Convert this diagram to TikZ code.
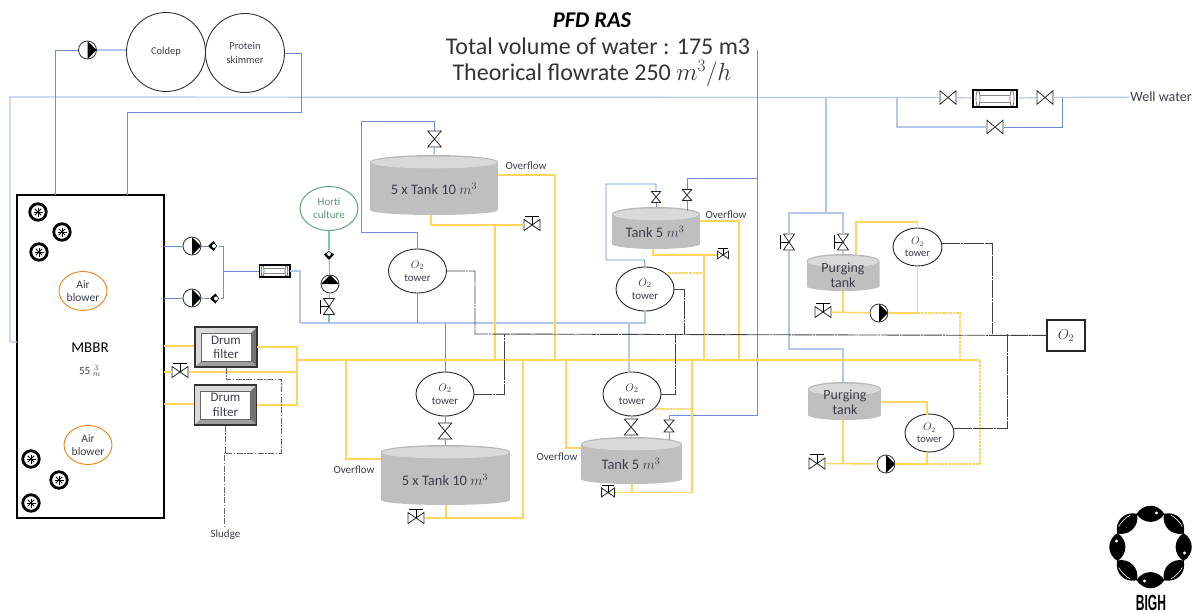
\documentclass[tikz,border=0pt]{standalone}
\usepackage{fontspec}
\setmainfont{Carlito}
\newfontfamily\bighfont{Liberation Sans}
\usepackage{amsmath}
\usetikzlibrary{shapes.geometric}
\definecolor{bluepipe}{HTML}{6A8FD8}
\definecolor{bluelight}{HTML}{B2C6EC}
\definecolor{yellowpipe}{HTML}{FFD55F}
\definecolor{greenpipe}{HTML}{74D098}
\definecolor{o2grey}{HTML}{404040}
\definecolor{inktext}{HTML}{3A3F4B}
\definecolor{tankgrey}{HTML}{BFBFBF}
\definecolor{tanktop}{HTML}{D9D9D9}
\newcommand{\fs}[1]{\fontsize{#1}{#1}\selectfont}
\tikzset{
	pipe/.style={draw=bluepipe, line width=.9pt},
	pipel/.style={draw=bluelight, line width=1.2pt},
	ypipe/.style={draw=yellowpipe, line width=1.5pt},
	ydash/.style={ypipe, line width=1.2pt, dash pattern=on 2.5pt off 1pt},
	gpipe/.style={draw=o2grey, line width=.9pt, dash pattern=on 18pt off .8pt on 2pt off .8pt},
	hpipe/.style={draw=greenpipe, line width=1.1pt},
	sludgeline/.style={draw=o2grey!80, line width=.7pt, dash pattern=on 6pt off 1.5pt on 1.5pt off 1.5pt},
	label/.style={text=inktext, font=\fs{11}, inner sep=1pt, align=center},
	valve/.style={inner sep=0pt, outer sep=0pt, minimum width=17pt, minimum height=15pt,
		path picture={\draw[black!85, line width=.8pt] (-8,-6.8) -- (8,6.8) -- (8,-6.8) -- (-8,6.8) -- cycle;}},
	stemvalve/.style={inner sep=0pt, outer sep=0pt, minimum width=17pt, minimum height=22pt,
		path picture={\draw[black!85, line width=.8pt] (-8,-5.5) -- (8,5.5) -- (8,-5.5) -- (-8,5.5) -- cycle;
			\draw[black, line width=.9pt] (0,0) -- (0,-9) (-7,-9) -- (7,-9);}},
	pumpsym/.style={circle, draw=black!80, fill=white, line width=.8pt, inner sep=0pt, minimum size=18pt,
		path picture={\fill[black] (0,-9) -- (9,0) -- (0,9) -- cycle;}},
	checksym/.style={inner sep=0pt, outer sep=0pt, minimum size=11pt,
		path picture={\fill[black] (-5,0) -- (0.5,-5) -- (4,0) -- (0.5,5) -- cycle;
			\fill[white] (1,0) circle (2);}},
	flowsym/.style={rectangle, draw=black, fill=white, line width=1.2pt, inner sep=0pt, minimum width=44pt, minimum height=17pt,
		path picture={\draw[black!45, line width=.7pt] (-15,-3.5) -- (15,-3.5) (-15,3.5) -- (15,3.5);
			\draw[black!60, line width=.7pt] (-17,0) ellipse (2 and 8) (17,0) ellipse (2 and 8);}},
	aerator/.style={circle, draw=black, fill=white, line width=2.8pt, inner sep=0pt, minimum size=16.5pt,
		path picture={\foreach \a in {0,45,90,135} \draw[black, line width=1pt] (\a:4.5) -- (\a+180:4.5);}},
	drumbox/.style={rectangle, draw=black!80, line width=1.1pt, inner sep=0pt, minimum width=62pt, minimum height=40pt,
		path picture={\fill[black!15] (-31,-20) rectangle (31,20);
			\fill[black!55] (31,-20) -- (31,20) -- (25,14) -- (25,-14) -- cycle;
			\fill[black!38] (-31,20) -- (31,20) -- (25,14) -- (-25,14) -- cycle;
			\filldraw[fill=white, draw=black!60, line width=.7pt] (-25,-14) rectangle (25,14);}},
	drumtext/.style={text=inktext, font=\fs{13}, align=center, inner sep=0pt},
	tankbox/.style 2 args={rectangle, inner sep=0pt, outer sep=0pt, minimum width=#1pt, minimum height=#2pt,
		path picture={\fill[tankgrey] (-#1/2,-#2/2+7) rectangle (#1/2,#2/2-5);
			\fill[tankgrey] (0,#2/2-5) ellipse ({#1/2} and 5);
			\fill[tanktop!85!black] (0,-#2/2+7) ellipse ({#1/2} and 7);
			\fill[tanktop] (0,-#2/2+7.5) ellipse ({#1/2-1} and 6);}},
	tanktext/.style={text=inktext, font=\fs{14.5}, align=center, inner sep=0pt},
	tower/.style={ellipse, draw=black!85, fill=white, line width=.9pt, inner sep=0pt, minimum width=58pt, minimum height=44pt,
		text=inktext, font=\fs{11}, align=center},
	smalltower/.style={tower, minimum width=49pt, minimum height=38pt, font=\fs{10.5}},
	round/.style={circle, draw=black!80, line width=.9pt, inner sep=0pt, minimum size=79pt, text=inktext, font=\fs{10.5}, align=center},
	blower/.style={ellipse, draw=#1, line width=.9pt, inner sep=0pt, minimum width=48pt, minimum height=39pt, text=inktext, font=\fs{11.5}, align=center},
}
\begin{document}
\begin{tikzpicture}[x=1pt, y=-1pt]
	\useasboundingbox (0,0) rectangle (1195,613);

	\node[text=black, font=\fs{22.5}\bfseries\itshape] (title) at (592,20) {PFD RAS};
	\node[text=black!80, font=\fs{24}] (subtitleA) at (598,46) {Total volume of water : 175 m3};
	\node[text=black!80, font=\fs{24}] (subtitleB) at (592,74) {Theorical flowrate 250 $m^3/h$};

	% coldep and skimmer
	\node[round] (coldep) at (166,52) {Coldep};
	\node[round] (skim) at (245,53) {Protein\\[3pt]skimmer};
	\node[pumpsym] (pumpA) at (87.5,50) {};

	% mbbr
	\node[rectangle, draw=black, line width=1.2pt, minimum width=147pt, minimum height=323pt, inner sep=0pt] (mbbr) at (90.5,356.5) {};
	\node[label, text=black, font=\fs{15}] (mbbrtext) at (90,348) {MBBR};
	\node[label, font=\fs{11}] (mbbrvol) at (90,371) {55 $_{m}^{\,3}$};
	\node[aerator] (aer1) at (38,212) {};
	\node[aerator] (aer2) at (62,232) {};
	\node[aerator] (aer3) at (39,252) {};
	\node[aerator] (aer4) at (31,459) {};
	\node[aerator] (aer5) at (59,480) {};
	\node[aerator] (aer6) at (31,503) {};
	\node[blower=orange!70!brown] (blowA) at (83,291) {Air\\[2pt]blower};
	\node[blower=orange!70!brown] (blowB) at (88,445) {Air\\[2pt]blower};

	\node[pumpsym] (pumpB) at (192,246) {};
	\node[pumpsym] (pumpC) at (192,298) {};
	\node[checksym] (chkB) at (213,246) {};
	\node[checksym] (chkC) at (215,298.5) {};
	\node[flowsym, scale=.7] (fmA) at (274.5,271) {};

	\node[drumbox] (drumA) at (226,347) {};
	\node[drumtext] (drumAtext) at (226,347) {Drum\\[1pt]filter};
	\node[drumbox] (drumB) at (225.5,405) {};
	\node[drumtext] (drumBtext) at (225.5,405) {Drum\\[2pt]filter};
	\node[stemvalve] (vDrum) at (180,372) {};
	\node[label] (sludge) at (225.5,535) {Sludge};

	% horticulture
	\node[ellipse, draw=greenpipe!80!black, line width=1pt, inner sep=0pt, minimum width=58pt, minimum height=44pt, text=greenpipe!75!black, font=\fs{11}, align=center] (horti) at (329,208.5) {Horti\\[2pt]culture};
	\node[checksym, rotate=90] (chkH) at (329,255) {};
	\node[pumpsym, rotate=90] (pumpH) at (330,284) {};
	\node[stemvalve, rotate=90] (vH) at (329,306.5) {};

	% upper tanks
	\node[tankbox={128}{60}] (tankA) at (434,185) {};
	\node[tanktext] (tankAtext) at (434,189) {5 x Tank 10 $m^3$};
	\node[valve, rotate=90] (vA) at (434.5,139) {};
	\node[stemvalve] (vAd) at (532,225) {};
	\node[tower] (towA) at (417.5,271) {$O_2$\\[2pt]tower};
	\node[label] (overA) at (526,166) {Overflow};

	\node[tankbox={88}{42}] (tankB) at (656,228) {};
	\node[tanktext] (tankBtext) at (655,232) {Tank 5 $m^3$};
	\node[valve, rotate=90, scale=.7] (vB) at (656,197) {};
	\node[valve, rotate=90, scale=.7] (vBb) at (687,195) {};
	\node[stemvalve, scale=.7] (vBd) at (723,255) {};
	\node[tower] (towB) at (645,289) {$O_2$\\[2pt]tower};
	\node[label] (overB) at (726,215) {Overflow};

	% lower tanks
	\node[tower] (towC) at (445,394) {$O_2$\\[2pt]tower};
	\node[valve, rotate=90] (vC) at (445,431) {};
	\node[tankbox={129}{60}] (tankC) at (445.5,475) {};
	\node[tanktext] (tankCtext) at (445,480) {5 x Tank 10 $m^3$};
	\node[stemvalve] (vCd) at (416,518) {};
	\node[label] (overC) at (354,470) {Overflow};

	\node[tower] (towD) at (632,394) {$O_2$\\[2pt]tower};
	\node[valve, rotate=90] (vD) at (631,427) {};
	\node[valve, rotate=90, scale=.75] (vDb) at (669,426) {};
	\node[tankbox={101}{47}] (tankD) at (631.5,460.5) {};
	\node[tanktext] (tankDtext) at (631,464) {Tank 5 $m^3$};
	\node[stemvalve, scale=.8] (vDd) at (608,492.5) {};
	\node[label] (overD) at (557,457) {Overflow};

	% purging
	\node[tankbox={73}{37}] (tankE) at (843,272.5) {};
	\node[tanktext, font=\fs{14}] (tankEtext) at (843,275) {Purging\\[1pt]tank};
	\node[stemvalve, rotate=90] (vE) at (843,242) {};
	\node[stemvalve, rotate=90] (vEb) at (789,242) {};
	\node[stemvalve] (vEd) at (823,312) {};
	\node[pumpsym] (pumpE) at (879,313) {};
	\node[smalltower] (towE) at (917.5,247) {$O_2$\\[1pt]tower};

	\node[tankbox={73}{38}] (tankF) at (844.5,401) {};
	\node[tanktext, font=\fs{14}] (tankFtext) at (845,402.5) {Purging\\[1pt]tank};
	\node[stemvalve] (vFd) at (817,463.5) {};
	\node[pumpsym] (pumpF) at (886,464) {};
	\node[smalltower] (towF) at (929.5,433) {$O_2$\\[1pt]tower};

	\node[rectangle, draw=black!85, line width=1.1pt, minimum width=38pt, minimum height=31pt, inner sep=0pt, text=inktext, font=\fs{14}] (o2box) at (1066,335.5) {$O_2$};

	% well water
	\node[label, font=\fs{14}] (well) at (1161,97) {Well water};
	\node[valve] (wvA) at (948,97.5) {};
	\node[flowsym] (wfm) at (995,98.5) {};
	\node[valve] (wvB) at (1045,97.5) {};
	\node[valve] (wvC) at (995,127) {};

	% blue junctions
	\coordinate (feedB) at (17,342);
	\coordinate (mainL) at (10,97);
	\coordinate (wjA) at (897,97.5);
	\coordinate (wjB) at (1062,97.5);
	\coordinate (skimD) at (301,112);
	\coordinate (mbbrR) at (127,195);
	\coordinate (mbbrP) at (55,195);
	\coordinate (outA) at (164,246);
	\coordinate (outB) at (164,298);
	\coordinate (jP) at (223,271);
	\coordinate (jH) at (300,323);
	\coordinate (jF) at (629,323);
	\coordinate (jFd) at (629,373);
	\coordinate (jAa) at (361,121);
	\coordinate (jAb) at (417.5,232);
	\coordinate (jBa) at (606,184);
	\coordinate (jBb) at (644.5,260);
	\coordinate (jBc) at (687,211);
	\coordinate (jL) at (757,178);
	\coordinate (jLt) at (757,50);
	\coordinate (jLb) at (669,415);
	\coordinate (jDb) at (669,440);
	\coordinate (jEa) at (826,97.5);
	\coordinate (jEb) at (826,213);
	\coordinate (jEc) at (843,349);

	% o2 junctions
	\coordinate (gA) at (475,334);
	\coordinate (gC) at (504,334);
	\coordinate (gD) at (675,334);
	\coordinate (gB) at (684,334);
	\coordinate (gE) at (992,334);
	\coordinate (gF) at (1007,334);

	% yellow junctions
	\coordinate (ym) at (297,360);
	\coordinate (yR) at (980,360);
	\coordinate (dAo) at (257,347);
	\coordinate (dBo) at (257,405);
	\coordinate (dAi) at (164,346);
	\coordinate (dBi) at (164,404);
	\coordinate (vDo) at (297,372);
	\coordinate (mbbrV) at (164,372);
	\coordinate (yAo) at (498,175);
	\coordinate (yAj) at (555,360);
	\coordinate (yAb) at (431,215);
	\coordinate (yAt) at (495,225);
	\coordinate (yAm) at (495,360);
	\coordinate (yBo) at (700,221);
	\coordinate (yBj) at (739,360);
	\coordinate (yBb) at (653,249);
	\coordinate (yBt) at (704,255);
	\coordinate (yBm) at (704,360);
	\coordinate (yBd) at (668,273);
	\coordinate (yBe) at (704,273);
	\coordinate (yCm) at (346,360);
	\coordinate (yCo) at (381,459);
	\coordinate (yCb) at (446,505);
	\coordinate (yCt) at (446,518);
	\coordinate (yCj) at (523,360);
	\coordinate (yDm) at (566,360);
	\coordinate (yDo) at (581,448);
	\coordinate (yDb) at (632,484);
	\coordinate (yDt) at (632,492.5);
	\coordinate (yDj) at (692,360);
	\coordinate (yDd) at (655,409);
	\coordinate (yDe) at (692,409);
	\coordinate (yEa) at (856,254);
	\coordinate (yEb) at (917.5,222);
	\coordinate (yEc) at (917.5,313);
	\coordinate (yEd) at (843,291);
	\coordinate (yEe) at (843,313);
	\coordinate (yEf) at (960,360);
	\coordinate (yFa) at (881,402);
	\coordinate (yFb) at (927,414.5);
	\coordinate (yFc) at (927,452);
	\coordinate (yFd) at (927,464);
	\coordinate (yFe) at (843,420);
	\coordinate (yFf) at (843,464);

	\coordinate (sA) at (281,379);
	\coordinate (sB) at (224,453);
	\coordinate (sC) at (224,527);

	% blue pipes
	\draw[pipel] (feedB) -| (mainL) -- (wvA);
	\draw[pipel] (wvA) -- (wfm);
	\draw[pipel] (wfm) -- (wvB);
	\draw[pipel] (wvB) -- (well);
	\draw[pipe] (wjB) |- (wvC);
	\draw[pipel] (wvC) -| (wjA);

	\draw[pipel] (coldep.west |- pumpA) -- (pumpA);
	\draw[pipe] (pumpA) -| (mbbrP);
	\draw[pipe] (skim.east) -| (skimD) -| (mbbrR);

	\draw[pipe] (outA) -- (pumpB);
	\draw[pipe] (pumpB) -- (chkB);
	\draw[pipe] (chkB) -| (jP);
	\draw[pipe] (outB) -- (pumpC);
	\draw[pipe] (pumpC) -- (chkC);
	\draw[pipe] (chkC) -| (jP);
	\draw[pipe] (jP) -- (fmA);
	\draw[pipel] (fmA) -| (jH);
	\draw[pipel] (towB.south) |- (jH);
	\draw[pipe] (towA.south) -- (towA.south |- jH);
	\draw[pipe] (towC.north) -- (towC.north |- jH);
	\draw[pipel] (jF) -- (jFd);

	\draw[pipe] (tankA.north) -- (vA);
	\draw[pipe] (vA) |- (jAa) |- (jAb) -- (towA.north);
	\draw[pipe] (vB) |- (jBa) |- (jBb) -- (towB.north);
	\draw[pipe] (vB) -- (vB |- tankB.north);
	\draw[pipe] (vBb) -- (jBc);
	\draw[pipe] (vBb) |- (jL);
	\draw[pipe] (jLt) |- (jLb) -- (vDb);
	\draw[pipe] (vDb) -- (jDb);
	\draw[pipe] (towC.south) -- (vC);
	\draw[pipe] (vC) -- (tankC.north);
	\draw[pipe] (towD.south) -- (vD);
	\draw[pipel] (vD) -- (tankD.north);

	\draw[pipel] (jEa) -- (jEb);
	\draw[pipel] (vEb) |- (jEb);
	\draw[pipel] (jEb) -| (vE);
	\draw[pipel] (vE) -- (tankE.north);
	\draw[pipel] (vEb) |- (jEc) -- (tankF.north -| jEc);

	% green line
	\draw[hpipe] (horti) -- (chkH);
	\draw[hpipe] (chkH) -- (pumpH);
	\draw[hpipe] (pumpH) -- (vH);
	\draw[hpipe] (vH) -- (vH |- jH);

	% yellow pipes
	\draw[ypipe] (dAi) -- (drumA.west |- dAi);
	\draw[ypipe] (dBi) -- (drumB.west |- dBi);
	\draw[ypipe] (dAo) -| (vDo);
	\draw[ypipe] (dBo) -| (vDo);
	\draw[ypipe] (mbbrV) -- (vDrum);
	\draw[ypipe] (vDrum) -- (vDo);
	\draw[ypipe] (ym) -- (yR);

	\draw[ypipe] (yAo) -| (yAj);
	\draw[ypipe] (yAb) |- (vAd);
	\draw[ypipe] (yAt) -- (yAm);

	\draw[ypipe] (yBo) -| (yBj);
	\draw[ypipe] (yBb) |- (vBd);
	\draw[ypipe] (yBt) -- (yBm);
	\draw[ydash] (yBd) -- (yBe);

	\draw[ypipe] (yCm) |- (yCo);
	\draw[ypipe] (yCb) -- (yCt);
	\draw[ypipe] (vCd) -| (yCj);

	\draw[ypipe] (yDm) |- (yDo);
	\draw[ypipe] (yDb) -- (yDt);
	\draw[ypipe] (vDd) -| (yDj);
	\draw[ydash] (yDd) -- (yDe);

	\draw[ypipe] (yEa) |- (yEb) -- (towE.north);
	\draw[ypipe] (towE.south) -- (yEc);
	\draw[ypipe] (yEd) -- (yEe);
	\draw[ypipe] (vEd) -- (pumpE);
	\draw[ypipe] (pumpE) -- (yEc);
	\draw[ydash] (yEc) -| (yEf);

	\draw[ypipe] (yFa) -| (yFb);
	\draw[ypipe] (yFc) -- (yFd);
	\draw[ypipe] (yFe) -- (yFf);
	\draw[ypipe] (vFd) -- (pumpF);
	\draw[ypipe] (pumpF) -- (yFd);
	\draw[ydash] (yFd) -| (yR);

	% o2 lines
	\draw[gpipe] (towA.east) -| (gA) -- (o2box);
	\draw[gpipe] (towC.east) -| (gC);
	\draw[gpipe] (towD.east) -| (gD);
	\draw[gpipe] (towB.east) -| (gB);
	\draw[gpipe] (towE.8) -| (gE);
	\draw[gpipe] (towF.10) -| (gF);

	% sludge
	\draw[sludgeline] (drumA.south) |- (sA) |- (sB) -- (sC);
	\draw[sludgeline] (drumB.south) -- (drumB.south |- sB);

	% logo
	\foreach \a in {0,45,...,315} {
		\begin{scope}[shift={(1150.5,547)}, rotate=\a]
			\fill[black] (33,-14) .. controls (44,-7) and (44,7) .. (33,14) .. controls (22.5,7) and (22.5,-7) .. (33,-14);
		\end{scope}
	}
	\foreach \a in {45,135,225,315} {
		\begin{scope}[shift={(1150.5,547)}, rotate=\a]
			\draw[white, line width=.6pt] (37,-8) .. controls (38.5,-3) and (38.5,3) .. (37,8);
		\end{scope}
	}
	\foreach \a in {0,90,180,270} {
		\begin{scope}[shift={(1150.5,547)}, rotate=\a]
			\fill[white] (34,6) circle (1.6);
		\end{scope}
	}
	\node[text=black, font=\fs{22}\bighfont\bfseries, xscale=.55, inner sep=0pt] (bigh) at (1151,603) {BIGH};
\end{tikzpicture}
\end{document}
